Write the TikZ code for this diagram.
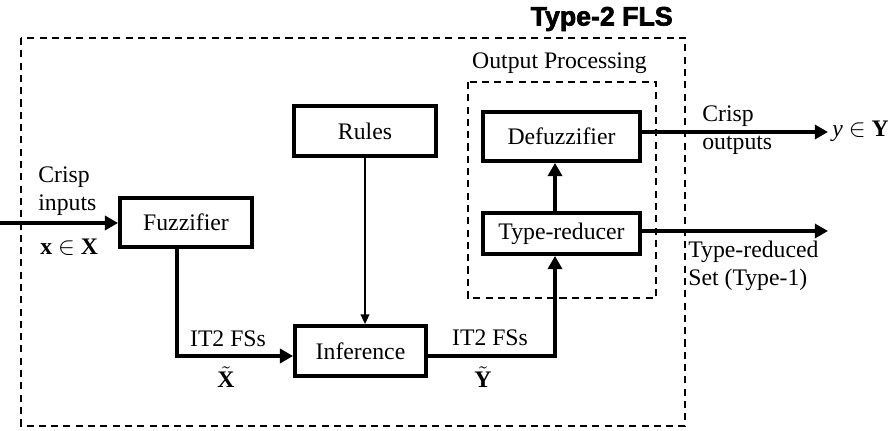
\documentclass[tikz,border=0pt]{standalone}
\usepackage{fontspec}
\setmainfont{Liberation Serif}
\newfontfamily\titlefont[BoldFeatures={FakeBold=2.5}]{Liberation Sans}
\usetikzlibrary{arrows.meta,positioning}

\begin{document}
\begin{tikzpicture}[x=0.02cm, y=-0.02cm,
    every node/.style={font=\fontsize{13.5}{16}\selectfont, inner sep=0pt},
    block/.style={draw, line width=2.2pt, minimum height=1cm, text centered},
    flow/.style={-{Triangle[length=7.5pt,width=8pt]}, line width=2.2pt},
    rulearrow/.style={-{Triangle[length=5.5pt,width=5pt]}, line width=0.8pt},
    dashbox/.style={dashed, dash pattern=on 4pt off 3pt, line width=0.8pt}]
    \useasboundingbox (0,0) rectangle (888,431);
    % frames
    \draw[dashbox] (21,38) rectangle (685,426);
    \draw[dashbox] (468,82) rectangle (656,298);
    \node[anchor=east, font=\titlefont\bfseries\fontsize{15.2}{18}\selectfont] (title) at (673,19) {Type-2 FLS};
    \node (outlbl) at (559.5,63) {Output Processing};
    % blocks
    \node[block, minimum width=2.84cm] (rules) at (365,131) {Rules};
    \node[block, minimum width=2.64cm, minimum height=0.98cm] (fuzz) at (186,222.5) {Fuzzifier};
    \node[block, minimum width=2.62cm] (inf) at (360.5,351) {Inference};
    \node[block, minimum width=3.14cm, minimum height=0.98cm] (defuzz) at (561.5,136.5) {Defuzzifier};
    \node[block, minimum width=3.14cm, minimum height=0.82cm] (tred) at (561.5,233.5) {Type-reducer};
    % free ends
    \coordinate (in) at (0,223);
    \coordinate (yout) at (828,132);
    \coordinate (trout) at (828,231);
    % connectors
    \draw[flow] (in) -- (fuzz.west |- in);
    \draw[flow] ([xshift=-0.18cm]fuzz.south) |- ([yshift=-0.1cm]inf.west);
    \draw[rulearrow] (rules) -- (rules |- inf.north);
    \draw[flow] ([yshift=-0.1cm]inf.east) -| ([xshift=-0.13cm]tred.south);
    \draw[flow] ([xshift=-0.13cm]tred.north) -- ([xshift=-0.13cm]defuzz.south);
    \draw[flow] (defuzz.east |- yout) -- (yout);
    \draw[flow] (tred.east |- trout) -- (trout);
    % labels
    \node[align=left, anchor=west] (crispin) at (38,191) {Crisp\\inputs};
    \node[anchor=west] (xin) at (40,247) {\textbf{x} $\in$ \textbf{X}};
    \node (fs1) at (228,339) {IT2 FSs};
    \node (xt) at (226,377) {$\tilde{\textbf{X}}$};
    \node (fs2) at (490,338) {IT2 FSs};
    \node (yt) at (483,377) {$\tilde{\textbf{Y}}$};
    \node[align=left, anchor=west] (crispout) at (702,130) {Crisp\\outputs};
    \node[anchor=west] (yo) at (832,131) {\textit{y} $\in$ \textbf{Y}};
    \node[align=left, anchor=west] (trset) at (688,266) {Type-reduced\\Set (Type-1)};
\end{tikzpicture}
\end{document}
